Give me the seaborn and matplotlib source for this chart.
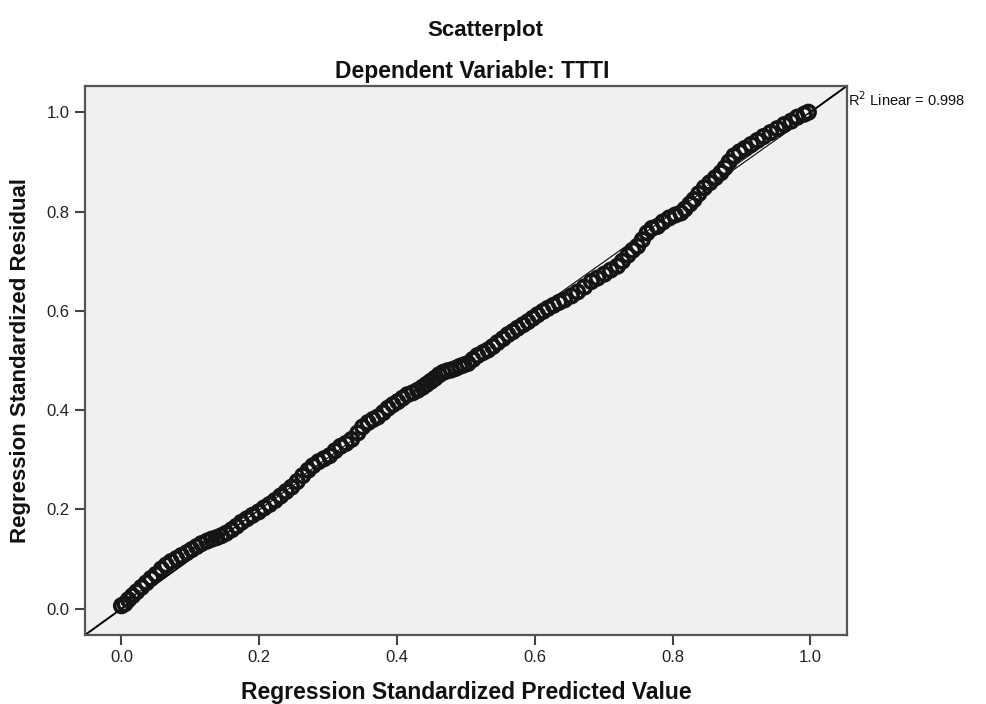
import matplotlib
matplotlib.use("Agg")
import matplotlib.pyplot as plt
import matplotlib.patheffects as pe
import seaborn as sns
import pandas as pd

predicted = [
    0.000, 0.005, 0.010, 0.016, 0.022, 0.029, 0.036, 0.043, 0.050, 0.058,
    0.065, 0.072, 0.080, 0.087, 0.095, 0.102, 0.109, 0.116, 0.124, 0.131,
    0.138, 0.145, 0.152, 0.160, 0.167, 0.174, 0.182, 0.190, 0.199, 0.207,
    0.215, 0.223, 0.231, 0.239, 0.247, 0.255, 0.263, 0.271, 0.278, 0.286,
    0.294, 0.302, 0.310, 0.318, 0.326, 0.334, 0.343, 0.350, 0.358, 0.365,
    0.372, 0.380, 0.387, 0.394, 0.401, 0.408, 0.415, 0.423, 0.430, 0.437,
    0.443, 0.449, 0.455, 0.461, 0.467, 0.473, 0.479, 0.485, 0.491, 0.497,
    0.503, 0.510, 0.517, 0.525, 0.532, 0.539, 0.546, 0.554, 0.561, 0.568,
    0.575, 0.583, 0.590, 0.597, 0.604, 0.612, 0.619, 0.627, 0.635, 0.643,
    0.653, 0.662, 0.672, 0.682, 0.691, 0.701, 0.710, 0.720, 0.727, 0.735,
    0.742, 0.749, 0.756, 0.763, 0.770, 0.778, 0.786, 0.795, 0.804, 0.812,
    0.818, 0.825, 0.831, 0.838, 0.846, 0.854, 0.862, 0.870, 0.876, 0.882,
    0.889, 0.897, 0.905, 0.914, 0.923, 0.932, 0.942, 0.952, 0.962, 0.972,
    0.981, 0.991, 0.997,
]
residual = [
    0.006, 0.010, 0.018, 0.026, 0.034, 0.043, 0.052, 0.061, 0.069, 0.080,
    0.088, 0.095, 0.101, 0.107, 0.113, 0.119, 0.125, 0.131, 0.136, 0.140,
    0.143, 0.147, 0.152, 0.159, 0.166, 0.174, 0.181, 0.188, 0.195, 0.203,
    0.210, 0.218, 0.227, 0.236, 0.245, 0.256, 0.268, 0.279, 0.288, 0.296,
    0.302, 0.308, 0.318, 0.327, 0.333, 0.341, 0.354, 0.366, 0.375, 0.381,
    0.386, 0.395, 0.404, 0.411, 0.417, 0.424, 0.431, 0.435, 0.440, 0.446,
    0.452, 0.458, 0.464, 0.471, 0.476, 0.479, 0.481, 0.484, 0.488, 0.491,
    0.494, 0.502, 0.510, 0.516, 0.521, 0.528, 0.536, 0.544, 0.552, 0.558,
    0.565, 0.572, 0.578, 0.585, 0.592, 0.599, 0.605, 0.611, 0.617, 0.622,
    0.630, 0.638, 0.648, 0.659, 0.666, 0.674, 0.682, 0.690, 0.700, 0.712,
    0.722, 0.730, 0.743, 0.757, 0.766, 0.770, 0.779, 0.787, 0.793, 0.797,
    0.805, 0.815, 0.824, 0.836, 0.848, 0.858, 0.868, 0.878, 0.888, 0.900,
    0.912, 0.920, 0.927, 0.935, 0.943, 0.951, 0.959, 0.967, 0.975, 0.982,
    0.990, 0.996, 1.000,
]
tick_values = [0.0, 0.2, 0.4, 0.6, 0.8, 1.0]
tick_labels = ["0.0", "0.2", "0.4", "0.6", "0.8", "1.0"]
r2_text = "R$^2$ Linear = 0.998"

df = pd.DataFrame({"pred": predicted, "resid": residual})

sns.set_theme(style="white")
plt.rcParams["font.family"] = ["Liberation Sans", "DejaVu Sans"]

fig = plt.figure(figsize=(9.87, 7.04), dpi=100)
ax = fig.add_axes([0.0861, 0.098, 0.772, 0.780])
ax.set_facecolor("#f0f0f0")

lims = (-0.053, 1.053)
ax.set_xlim(lims)
ax.set_ylim(lims)

# reference diagonal
ax.axline((0, 0), slope=1, color="black", lw=1.4, zorder=2)

sns.regplot(data=df, x="pred", y="resid", ax=ax, scatter=False, ci=None,
            line_kws=dict(color="#222222", lw=1.0, zorder=2.5,
                          path_effects=[pe.Stroke(linewidth=3.0, foreground="white"),
                                        pe.Normal()]))

sns.scatterplot(data=df, x="pred", y="resid", ax=ax, s=95,
                facecolor="none", edgecolor="#151515", linewidth=2.6,
                zorder=3, legend=False)

ax.set_xticks(tick_values)
ax.set_xticklabels(tick_labels)
ax.set_yticks(tick_values)
ax.set_yticklabels(tick_labels)
ax.tick_params(axis="both", direction="out", length=7, width=1.5,
               color="#444444", labelsize=12, labelcolor="#222222", pad=4,
               bottom=True, left=True)

for sp in ax.spines.values():
    sp.set_color("#555555")
    sp.set_linewidth(1.6)

ax.set_xlabel("Regression Standardized Predicted Value", fontsize=16.5,
              fontweight="bold", labelpad=11, color="#111111")
ax.set_ylabel("Regression Standardized Residual", fontsize=16,
              fontweight="bold", labelpad=11, color="#111111")

fig.text(0.492, 0.957, "Scatterplot", ha="center", va="center",
         fontsize=16, fontweight="bold", color="#111111")
fig.text(0.478, 0.898, "Dependent Variable: TTTI", ha="center", va="center",
         fontsize=16.5, fontweight="bold", color="#111111")

ax.text(1.002, 0.992, r2_text, transform=ax.transAxes, ha="left", va="top",
        fontsize=10.5, color="#111111")

fig.savefig("out.png", dpi=100)
